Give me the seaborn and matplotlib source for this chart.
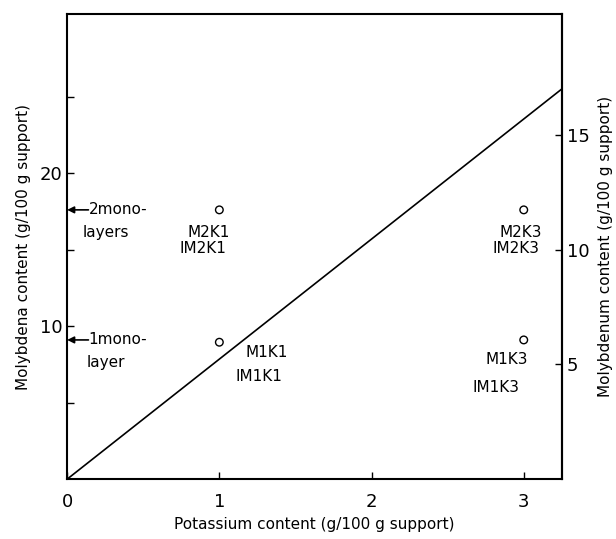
import matplotlib
matplotlib.use("Agg")
import matplotlib.pyplot as plt
import seaborn as sns
import pandas as pd
from matplotlib.ticker import MultipleLocator, FixedLocator

sns.set_theme(style="ticks")
plt.rcParams['font.family'] = ['DejaVu Sans']
plt.rcParams.update({"text.color": "black", "axes.labelcolor": "black",
                     "xtick.color": "black", "ytick.color": "black",
                     "axes.edgecolor": "black"})

# data
sample_k = [1, 1, 3, 3]
sample_moo3 = [17.6, 8.95, 17.6, 9.1]
line_k = [0, 3.25]
line_moo3 = [0, 25.5]
labels_top = ["M2K1", "M1K1", "M2K3", "M1K3"]
labels_bot = ["IM2K1", "IM1K1", "IM2K3", "IM1K3"]
label_top_pos = [(0.93, 16.1), (1.31, 8.3), (2.98, 16.1), (2.89, 7.8)]
label_bot_pos = [(0.89, 15.1), (1.26, 6.7), (2.95, 15.1), (2.82, 6.0)]
monolayer_levels = [17.6, 9.1]
monolayer_text1 = ["2mono-", "1mono-"]
monolayer_text2 = ["layers", "layer"]

fig = plt.figure(figsize=(6.16, 5.39), dpi=100)
ax = fig.add_axes([0.109, 0.111, 0.803, 0.863])

sns.lineplot(x=line_k, y=line_moo3, ax=ax, color="black", lw=1.2)
sns.scatterplot(x=sample_k, y=sample_moo3, ax=ax, marker="o", s=30,
                facecolor="none", edgecolor="black", linewidth=1.0)

for t, (x, y) in zip(labels_top, label_top_pos):
    ax.text(x, y, t, ha="center", va="center", fontsize=11, color="black")
for t, (x, y) in zip(labels_bot, label_bot_pos):
    ax.text(x, y, t, ha="center", va="center", fontsize=11, color="black")

for lev, t1, t2, dx in zip(monolayer_levels, monolayer_text1, monolayer_text2, [0.1, 0.13]):
    ax.annotate("", xy=(0, lev), xytext=(0.14, lev),
                arrowprops=dict(arrowstyle="-|>", color="black", lw=1.2,
                                mutation_scale=10, shrinkA=0, shrinkB=0))
    ax.text(0.14, lev, t1, ha="left", va="center", fontsize=11, color="black")
    ax.text(dx, lev - 1.5, t2, ha="left", va="center", fontsize=11, color="black")

ax.set_xlim(0, 3.25)
ax.set_ylim(0, 30.4)
ax.set_xticks([0, 1, 2, 3])
ax.set_yticks([10, 20])
ax.yaxis.set_minor_locator(FixedLocator([5, 15, 25]))
ax.tick_params(axis="both", which="both", direction="in", labelsize=13,
               length=5, width=1, color="black", labelcolor="black")
ax.tick_params(axis="x", pad=10)
ax.set_xlabel("Potassium content (g/100 g support)", fontsize=11, labelpad=4)
ax.set_ylabel("Molybdena content (g/100 g support)", fontsize=11, labelpad=6)
for s in ax.spines.values():
    s.set_linewidth(1.5)
    s.set_color("black")
    s.set_visible(True)

sec = ax.secondary_yaxis("right", functions=(lambda y: y * 2 / 3, lambda y: y * 1.5))
sec.set_yticks([5, 10, 15])
sec.tick_params(direction="in", labelsize=13, length=5, width=1, color="black",
                labelcolor="black")
sec.set_ylabel("Molybdenum content (g/100 g support)", fontsize=11, labelpad=6)
sec.spines["right"].set_linewidth(1.5)

fig.savefig("out.png", dpi=100)
